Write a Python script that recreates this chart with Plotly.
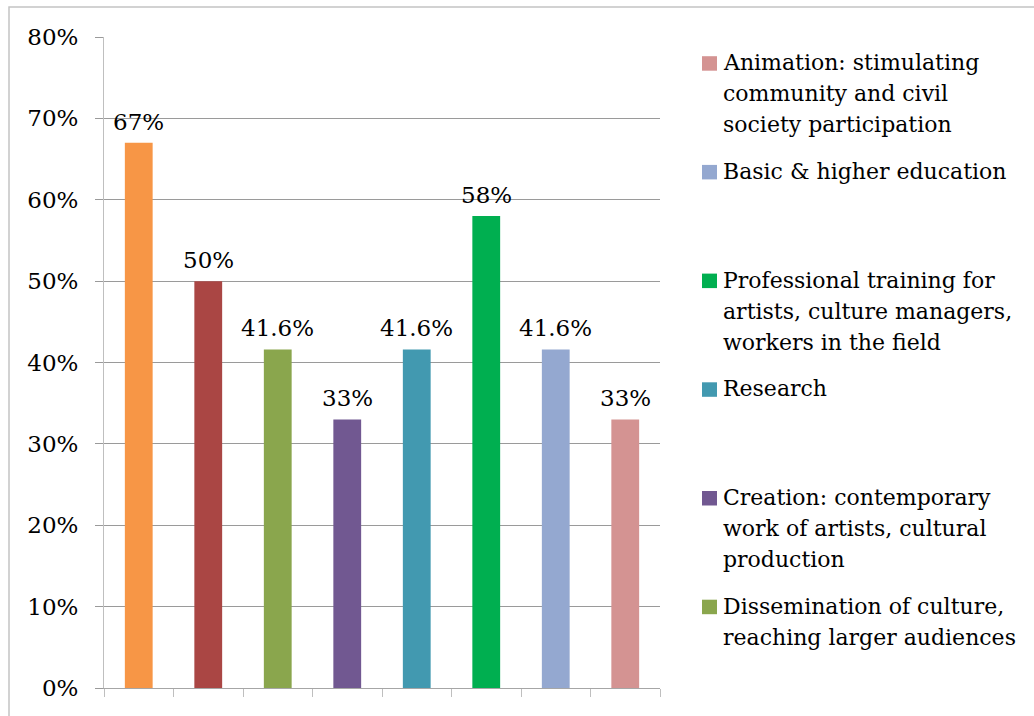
import plotly.graph_objects as go

# ---- data ----
categories = ["c1", "c2", "c3", "c4", "c5", "c6", "c7", "c8"]
values = [0.67, 0.50, 0.416, 0.33, 0.416, 0.58, 0.416, 0.33]
value_labels = ["67%", "50%", "41.6%", "33%", "41.6%", "58%", "41.6%", "33%"]
bar_colors = ["#F79646", "#AA4644", "#8AA64D", "#715891",
              "#4299B0", "#00AF50", "#94A8D0", "#D49392"]

# legend entries, top to bottom: (bar index, text lines)
legend_entries = [
    (7, ["Animation: stimulating", "community and civil", "society participation"]),
    (6, ["Basic & higher education"]),
    (5, ["Professional training for", "artists, culture managers,", "workers in the field"]),
    (4, ["Research"]),
    (3, ["Creation: contemporary", "work of artists, cultural", "production"]),
    (2, ["Dissemination of culture,", "reaching larger audiences"]),
]

FONT = "DejaVu Serif"
W, H = 1034, 716
ML, MR, MT, MB = 104, 374, 37, 28
PW, PH = W - ML - MR, H - MT - MB


def px_x(px):
    return (px - ML) / PW


def px_y(py):
    return (H - MB - py) / PH


fig = go.Figure()
fig.add_trace(go.Bar(
    x=categories,
    y=values,
    marker=dict(color=bar_colors, line=dict(width=0)),
    showlegend=False,
    hoverinfo="skip",
))

shapes = []
annotations = []

# value labels above each bar
for cat, val, lab in zip(categories, values, value_labels):
    annotations.append(dict(
        xref="x", yref="y", x=cat, y=val, xanchor="center", yanchor="bottom",
        yshift=6, showarrow=False, text=lab,
        font=dict(family=FONT, size=23, color="#000000")))

# outer chart frame
shapes.append(dict(type="rect", xref="paper", yref="paper",
                   x0=px_x(9), x1=px_x(1045), y0=px_y(725), y1=px_y(7),
                   line=dict(color="#c4c4c4", width=1.5), fillcolor="rgba(0,0,0,0)",
                   layer="below"))

# legend: swatch + text lines
first_baseline = 70.7
entry_pitch = 108.7
line_pitch = 31.0
for k, (idx, lines) in enumerate(legend_entries):
    base = first_baseline + entry_pitch * k
    shapes.append(dict(type="rect", xref="paper", yref="paper",
                       x0=px_x(702), x1=px_x(717), y0=px_y(base), y1=px_y(base - 14.5),
                       line=dict(width=0), fillcolor=bar_colors[idx]))
    for j, line in enumerate(lines):
        bl = base + line_pitch * j
        annotations.append(dict(
            xref="paper", yref="paper", x=px_x(722), y=px_y(bl - 8),
            xanchor="left", yanchor="middle", showarrow=False, text=line,
            borderpad=0, font=dict(family=FONT, size=22, color="#000000")))

fig.update_layout(
    width=W, height=H,
    margin=dict(l=ML, r=MR, t=MT, b=MB, pad=0),
    paper_bgcolor="white", plot_bgcolor="white",
    bargap=0.6,
    showlegend=False,
    font=dict(family=FONT, size=23, color="#000000"),
    shapes=shapes,
    annotations=annotations,
    xaxis=dict(
        type="category", showticklabels=False,
        ticks="outside", tickson="boundaries", ticklen=8,
        tickcolor="#bfbfbf", tickwidth=1,
        showline=True, linecolor="#a6a6a6", linewidth=1,
        showgrid=False, zeroline=False,
    ),
    yaxis=dict(
        range=[0, 0.8], dtick=0.1, tickformat=".0%",
        ticks="outside", ticklen=8, tickcolor="#9a9a9a", tickwidth=1,
        ticklabelstandoff=12,
        tickfont=dict(family=FONT, size=23, color="#000000"),
        showline=True, linecolor="#bfbfbf", linewidth=1,
        showgrid=True, gridcolor="#9a9a9a", gridwidth=1,
        zeroline=False,
    ),
)

fig.write_html("out.html")
